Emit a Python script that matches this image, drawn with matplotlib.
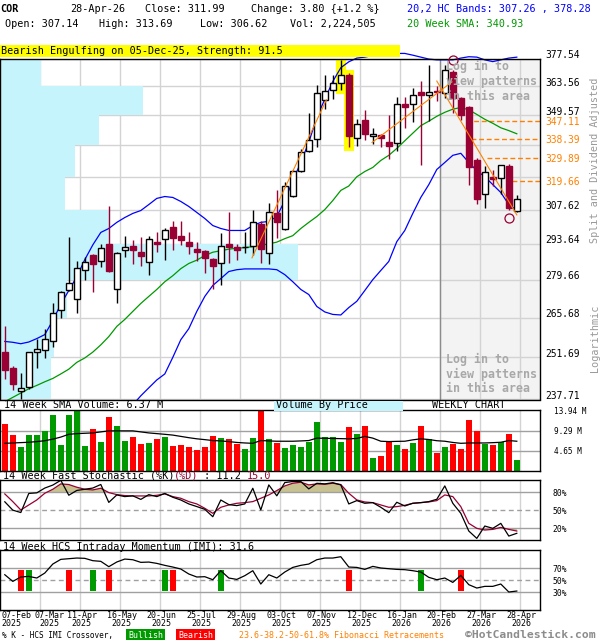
#%% Datos
import numpy as np
import matplotlib
matplotlib.use("Agg")
import matplotlib.pyplot as plt
from matplotlib.patches import Rectangle
from matplotlib.ticker import NullLocator
from matplotlib.transforms import ScaledTranslation, blended_transform_factory

plt.rcParams['font.family'] = 'DejaVu Sans Mono'

# velas semanales (28-Apr-26 es la ultima)
opens = [253.4, 248.0, 240.6, 241.7, 253.4, 254.1, 257.3, 268.3, 275.9, 272.6,
         283.2, 289.3, 287.0, 293.6, 276.0, 291.2, 292.9, 290.3, 286.5, 294.5,
         295.6, 300.6, 296.9, 294.5, 291.7, 290.8, 287.7, 286.2, 293.6, 292.4,
         292.2, 292.6, 301.5, 290.0, 306.0, 299.7, 313.2, 324.0, 333.0, 338.4,
         356.7, 361.8, 365.4, 369.0, 339.2, 347.2, 340.1, 340.4, 337.3, 336.9,
         354.9, 354.9, 360.7, 359.1, 361.3, 360.1, 370.7, 358.1, 353.6, 328.8,
         314.0, 321.3, 321.1, 326.2, 307.14]
highs = [262.6, 248.7, 246.5, 253.6, 258.1, 261.6, 271.1, 275.6, 296.4, 286.8,
         288.5, 289.6, 293.6, 309.3, 290.4, 296.9, 295.2, 296.4, 296.7, 298.3,
         300.2, 302.7, 303.0, 298.5, 294.2, 291.0, 287.9, 297.8, 306.4, 293.6,
         298.3, 307.5, 302.8, 310.2, 315.9, 319.5, 324.5, 334.1, 350.9, 364.1,
         369.0, 369.0, 376.9, 370.0, 347.7, 352.0, 343.5, 340.6, 349.6, 358.4,
         358.4, 362.9, 366.2, 374.4, 363.7, 374.4, 371.9, 358.3, 354.0, 329.9,
         326.2, 324.7, 326.8, 327.4, 313.69]
lows = [244.5, 240.8, 238.0, 241.2, 248.2, 251.5, 255.4, 265.6, 275.4, 267.4,
        279.7, 275.0, 284.6, 282.5, 270.8, 288.3, 285.6, 284.8, 281.3, 290.3,
        287.2, 291.3, 293.3, 289.7, 286.8, 282.3, 276.1, 277.8, 286.2, 287.4,
        289.8, 289.4, 285.9, 285.8, 296.0, 299.1, 312.9, 323.8, 332.8, 335.0,
        352.5, 357.6, 361.8, 334.7, 335.3, 337.9, 336.1, 334.8, 329.5, 333.0,
        343.8, 346.2, 327.0, 346.9, 356.5, 358.1, 350.9, 347.2, 317.9, 310.0,
        308.3, 317.5, 314.3, 307.3, 306.62]
closes = [247.5, 242.7, 241.4, 253.4, 254.5, 258.1, 267.4, 275.1, 278.5, 284.2,
          286.5, 285.6, 292.0, 282.9, 290.0, 292.4, 291.0, 288.7, 295.6, 293.4,
          299.3, 295.9, 295.2, 292.6, 290.3, 288.1, 284.8, 292.8, 292.4, 291.0,
          292.4, 302.6, 291.6, 306.7, 302.4, 317.5, 324.0, 332.6, 337.9, 360.5,
          361.5, 365.4, 369.0, 339.8, 345.7, 340.7, 341.0, 338.9, 335.3, 354.9,
          353.3, 359.1, 359.1, 360.7, 360.7, 371.9, 358.1, 349.7, 325.9, 312.0,
          323.6, 320.6, 326.7, 308.2, 311.99]

# bandas HC 20,2 y media de 20 semanas
upper_band = [257.2, 256.9, 256.4, 257.0, 258.2, 259.6, 264.6, 270.5, 275.6, 280.8,
              287.4, 293.2, 298.2, 299.8, 302.3, 304.3, 306.0, 307.2, 309.7, 312.3,
              313.1, 312.7, 311.0, 308.9, 306.4, 303.9, 301.0, 299.8, 299.0, 299.0,
              299.0, 301.0, 302.3, 302.7, 304.7, 311.4, 319.9, 327.9, 337.0, 348.6,
              357.3, 366.0, 372.9, 375.9, 377.8, 378.3, 379.1, 379.6, 380.1, 380.2,
              380.2, 379.3, 378.3, 377.3, 376.9, 376.9, 376.9, 377.8, 378.5, 378.3,
              376.9, 376.0, 376.9, 377.8, 378.28]
lower_band = [np.nan] * 16 + [
              236.0, 238.9, 241.5, 244.1,
              246.1, 251.7, 257.8, 261.7, 267.9, 273.4, 277.5, 280.1, 282.8, 283.5,
              283.8, 283.8, 283.8, 283.8, 283.5, 281.6, 278.9, 276.0, 274.1, 269.7,
              267.7, 266.8, 266.6, 269.3, 271.6, 275.6, 279.7, 283.2, 286.7, 294.5,
              299.0, 306.0, 312.7, 318.2, 324.8, 327.9, 331.1, 332.0, 327.9, 324.3,
              321.6, 318.2, 314.8, 309.7, 307.26]
sma20 = [237.0, 238.4, 239.8, 241.2, 242.3, 243.5, 244.6, 246.1, 247.7, 250.0,
         251.5, 253.5, 256.0, 258.9, 262.5, 265.0, 267.9, 270.8, 273.4, 276.0,
         278.9, 281.2, 283.9, 285.9, 287.2, 289.0, 290.3, 290.9, 291.5, 291.9,
         292.1, 292.5, 293.1, 293.6, 294.3, 295.7, 296.9, 299.8, 302.3, 304.7,
         307.6, 311.4, 315.7, 317.6, 321.6, 323.9, 325.7, 328.8, 331.1, 334.2,
         337.7, 341.2, 344.7, 346.8, 349.1, 351.0, 352.5, 353.3, 352.2, 350.0,
         347.7, 345.8, 343.7, 342.4, 340.93]

# volumen (millones) y media de 14 semanas
volume = [10.8, 8.4, 5.6, 8.4, 8.4, 9.35, 12.9, 6.0, 12.9, 13.9,
          5.8, 9.7, 6.7, 12.5, 10.3, 7.0, 7.8, 6.25, 6.5, 7.45,
          7.9, 5.8, 6.0, 5.5, 4.8, 5.5, 8.2, 7.7, 7.45, 6.25,
          5.05, 7.7, 13.94, 7.45, 6.5, 5.3, 6.0, 5.5, 6.7, 11.3,
          7.9, 7.9, 6.7, 10.1, 8.65, 10.3, 2.9, 3.4, 6.8, 6.0,
          5.05, 6.5, 10.3, 7.45, 4.1, 5.5, 6.25, 5.05, 11.75, 9.35,
          6.25, 6.0, 6.7, 8.65, 2.65]
vol_sma = [6.40, 6.48, 6.56, 6.64, 6.80, 7.0, 7.36, 7.84, 8.48, 8.64,
           8.72, 8.80, 9.04, 9.28, 9.28, 9.28, 9.28, 9.04, 8.80, 8.64,
           8.48, 8.3, 8.0, 7.7, 7.44, 7.25, 7.04, 6.95, 6.80, 6.6,
           6.48, 6.40, 7.04, 6.95, 6.88, 6.88, 6.88, 6.95, 7.04, 7.60,
           7.56, 7.52, 7.48, 7.44, 7.52, 8.0, 7.60, 6.88, 6.80, 6.85,
           6.88, 7.20, 7.44, 7.28, 7.0, 6.88, 6.6, 6.40, 6.48, 6.48,
           6.48, 6.55, 6.64, 7.04, 6.88]

# estocastico rapido 14 semanas
stoch_k = [64, 50, 46, 78, 79, 87, 92, 100, 75, 83,
           85, 87, 93, 63, 75.5, 72.7, 74, 68, 76, 72.7,
           78, 71.6, 67, 60.4, 56, 51.4, 39, 67, 59.3, 57.6,
           60.4, 86.7, 50.3, 92.3, 74, 96.2, 98, 98, 85.6, 95,
           94, 96, 92.3, 60.4, 66, 61.5, 62.6, 54.8, 45.8, 63.2,
           57, 61.5, 62.6, 64.3, 68.2, 90.6, 61.5, 44.7, 15, 2.7,
           23.4, 19.5, 27.9, 6.6, 11.2]
stoch_d = [77.2, 64.3, 50.3, 58.7, 67.1, 78.3, 85, 94, 92.9, 88.4,
           85, 83.9, 86.7, 79.4, 76, 74.4, 73.8, 73.8, 73.8, 74.9,
           77.2, 72.7, 69.9, 64.3, 60.4, 53.1, 44.7, 54.8, 58.7, 61.5,
           62.6, 64.3, 69.9, 75.5, 82.8, 90.6, 95.1, 96.8, 92.3, 94,
           93.4, 95.1, 92.9, 78.3, 67.1, 63.7, 62.6, 58.7, 54.8, 55.9,
           58.1, 61.5, 62.6, 63.7, 66, 75.5, 72.7, 55.9, 27.9, 19.5,
           16.7, 17.8, 21.1, 17.8, 15.0]

# HCS intraday momentum
imi = [58.8, 47.7, 55, 56, 53.3, 61.6, 76.6, 84.4, 85.5, 86.6,
       86.1, 82.2, 81.1, 72.2, 80, 84.9, 83.8, 79.4, 79.9, 77.7,
       74.4, 71.6, 68.3, 60, 55, 55.5, 50.5, 65.5, 53.3, 51,
       57.2, 65.5, 43.3, 58.8, 53.3, 63.3, 71, 74.4, 76.6, 83.8,
       86.6, 86.6, 88.8, 71.6, 71, 67.7, 72.7, 70, 68.8, 67.7,
       67.2, 65.5, 63.3, 54.4, 50.5, 53.3, 46, 57.7, 42.2, 36.6,
       39.4, 39.4, 43.3, 30, 31.6]
cross_bull = [3, 11, 20, 27, 52]
cross_bear = [2, 8, 13, 21, 43, 57]

# niveles de precio (log) y volumen por precio (% del maximo, de abajo hacia arriba)
price_levels = [237.71, 251.69, 265.68, 279.66, 293.64, 307.62, 321.60, 335.59, 349.57, 363.56, 377.54]
hidden_levels = [321.60, 335.59]
vbp = [17.0, 18.1, 22.4, 100, 37.0, 21.7, 25.2, 33.2, 47.9, 13.7]

fib_levels = [347.11, 338.39, 329.89, 319.66]
fib_start = [57.7, 58.3, 60.25, 63.4]
trend_lines = [(30.9, 288.1, 40.2, 357.0),
               (45.9, 336.9, 55.9, 365.8),
               (54.0, 366.2, 64.0, 305.4)]
swing_marks = [(56, 376.9), (63, 303.9)]
pattern_bars = [42, 43]

date_labels = ["07-Feb\n2025", "07-Mar\n2025", "11-Apr\n2025", "16-May\n2025", "20-Jun\n2025",
               "25-Jul\n2025", "29-Aug\n2025", "03-Oct\n2025", "07-Nov\n2025", "12-Dec\n2025",
               "16-Jan\n2026", "20-Feb\n2026", "27-Mar\n2026", "28-Apr\n2026"]

#%% Figura
RED = "#990033"
VRED = "#ff0000"
VGREEN = "#009900"
ORANGE = "#ff8000"
GRID = "#d3d3d3"
LINE = "#a0a0a0"

W, H = 600, 640
fig = plt.figure(figsize=(6, 6.4), dpi=100)

def axes_px(x0, y0, x1, y1):
    return fig.add_axes([x0 / W, 1 - y1 / H, (x1 - x0) / W, (y1 - y0) / H])

def ftext(x, y, s, **kw):
    kw.setdefault("va", "center")
    kw.setdefault("fontsize", 7.3)
    return fig.text(x / W, 1 - y / H, s, **kw)

x = np.arange(len(closes))
xmin, xmax = -0.6, 66.9
grid_x = [-0.6 + 5 * k for k in range(1, 14)]
up_shift = ScaledTranslation(0, 0.045, fig.dpi_scale_trans)
down_shift = ScaledTranslation(0, -0.012, fig.dpi_scale_trans)

def base_panel(a):
    a.set_xlim(xmin, xmax)
    a.set_xticks(grid_x)
    a.set_xticklabels([])
    a.grid(True, axis="x", color=GRID, lw=1.0)
    a.set_axisbelow(True)
    a.tick_params(length=0)
    a.yaxis.tick_right()
    for s in a.spines.values():
        s.set_color("black")
        s.set_linewidth(1.0)

#%% Panel de precios
ax = axes_px(0, 58.6, 540, 399.5)
ax.set_yscale("log")
base_panel(ax)
ax.set_ylim(price_levels[0], price_levels[-1])
ax.yaxis.set_minor_locator(NullLocator())
ax.set_yticks(price_levels)
ax.set_yticklabels(["" if lv in hidden_levels else f"{lv:.2f}" for lv in price_levels])
ax.tick_params(axis="y", pad=4, labelsize=6.9)
ax.grid(True, axis="y", color=GRID, lw=1.0)
for lbl in ax.get_yticklabels():
    lbl.set_transform(lbl.get_transform() + up_shift)

ax.axvspan(54.4, xmax, color="#f3f3f3", zorder=0.1, lw=0)
ax.axvline(54.4, color="#8c8c8c", lw=1.0, zorder=0.8)

vbp_len = np.array(vbp) / max(vbp) * 0.551 * (xmax - xmin)
ax.barh(price_levels[:-1], vbp_len, height=np.diff(price_levels), left=xmin,
        align="edge", color="#c6f4fc", lw=0, zorder=0.7)

for i in pattern_bars:
    ax.add_patch(Rectangle((i - 0.65, lows[i] / 1.005), 1.3,
                           highs[i] * 1.005 - lows[i] / 1.005, color="#ffff00", lw=0, zorder=1.5))

for lv, xs in zip(fib_levels, fib_start):
    ax.plot([xs, xmax], [lv, lv], color=ORANGE, lw=1.0, ls=(0, (3.5, 2)), zorder=1.8)

ax.plot(x, sma20, color="#009900", lw=0.9, zorder=2.2)
ax.plot(x, lower_band, color="#0000ff", lw=0.9, zorder=2.3)
ax.plot(x, upper_band, color="#0000ff", lw=0.9, zorder=2.3, clip_on=False)

for i in range(len(closes)):
    o, h, l, c = opens[i], highs[i], lows[i], closes[i]
    bull = c >= o
    col = "black" if bull else RED
    ax.vlines(i, l, h, color=col, lw=1.0, zorder=3)
    ax.add_patch(Rectangle((i - 0.36, min(o, c)), 0.72, max(abs(c - o), 0.15),
                           facecolor="white" if bull else RED, edgecolor=col, lw=1.0, zorder=3.5))

for x0, p0, x1, p1 in trend_lines:
    ax.plot([x0, x1], [p0, p1], color=ORANGE, lw=0.8, zorder=5)
for sx, sy in swing_marks:
    ax.plot(sx, sy, "o", mfc="none", mec=RED, ms=6.5, mew=0.9, clip_on=False, zorder=6)

fib_tr = blended_transform_factory(ax.transAxes, ax.transData) + down_shift
for lv in fib_levels:
    ax.text(1 + 5 / 540, lv, f"{lv:.2f}", transform=fib_tr, color=ORANGE, fontsize=6.9,
            va="center", ha="left", clip_on=False)

#%% Volumen
axv = axes_px(0, 410, 540, 471)
base_panel(axv)
axv.set_ylim(0, 14.1)
for lv in (4.65, 9.29):
    axv.axhline(lv, color=LINE, lw=1.0, zorder=1)
vol_cols = [VGREEN if c >= o else VRED for o, c in zip(opens, closes)]
axv.bar(x, volume, width=0.75, color=vol_cols, lw=0, zorder=2)
axv.plot(x, vol_sma, color="black", lw=0.9, zorder=3)
axv.set_yticks([4.65, 9.29, 13.94])
axv.set_yticklabels(["4.65 M", "9.29 M", "13.94 M"])
axv.tick_params(axis="y", pad=10, labelsize=5.6)

#%% Estocastico
axs = axes_px(0, 480.3, 540, 540)
base_panel(axs)
axs.set_ylim(0, 100)
kk = np.array(stoch_k, dtype=float)
dd = np.array(stoch_d, dtype=float)
axs.fill_between(x, 80, dd, where=dd >= 80, interpolate=True, color="#c8c290", lw=0, zorder=1)
axs.fill_between(x, 20, dd, where=dd <= 20, interpolate=True, color="#c8c290", lw=0, zorder=1)
axs.axhline(80, color=LINE, lw=1.0, zorder=1.2)
axs.axhline(20, color=LINE, lw=1.0, zorder=1.2)
axs.axhline(50, color=LINE, lw=1.0, ls=(0, (3.5, 2.5)), zorder=1.2)
axs.plot(x, dd, color=RED, lw=0.9, zorder=2)
axs.plot(x, kk, color="black", lw=0.9, zorder=3)
axs.set_yticks([20, 50, 80])
axs.set_yticklabels(["20%", "50%", "80%"])
axs.tick_params(axis="y", pad=9, labelsize=5.8)

#%% IMI
axi = axes_px(0, 550, 540, 610)
base_panel(axi)
axi.set_ylim(0, 100)
axi.axhline(70, color=LINE, lw=1.0, zorder=1.2)
axi.axhline(30, color=LINE, lw=1.0, zorder=1.2)
axi.axhline(50, color=LINE, lw=1.0, ls=(0, (3.5, 2.5)), zorder=1.2)
axi.bar(cross_bull, 35, bottom=32, width=0.75, color=VGREEN, lw=0, zorder=2)
axi.bar(cross_bear, 35, bottom=32, width=0.75, color=VRED, lw=0, zorder=2)
axi.plot(x, imi, color="black", lw=0.9, zorder=3)
axi.set_yticks([30, 50, 70])
axi.set_yticklabels(["30%", "50%", "70%"])
axi.tick_params(axis="y", pad=9, labelsize=5.8)

# fechas debajo del ultimo panel (las dos primeras corridas para no pisarse)
lab_tr = blended_transform_factory(axi.transData, fig.transFigure)
label_pos = [-0.46, 5.54] + [-0.4 + 5 * k for k in range(2, 14)]
for k, (lp, s) in enumerate(zip(label_pos, date_labels)):
    axi.text(lp, 1 - 611.5 / H, s, transform=lab_tr, fontsize=6, linespacing=0.85,
             ha="left" if k == 0 else "center", va="top", clip_on=False)

#%% Textos
ftext(0, 9.3, "COR", fontweight="bold")
ftext(70, 9.3, "28-Apr-26")
ftext(145, 9.3, "Close: 311.99")
ftext(251, 9.3, "Change: 3.80 {+1.2 %}")
ftext(407, 9.3, "20,2 HC Bands: 307.26 , 378.28", color="#0000ff")
ftext(5, 24, "Open: 307.14")
ftext(99, 24, "High: 313.69")
ftext(200, 24, "Low: 306.62")
ftext(290, 24, "Vol: 2,224,505")
ftext(407, 24, "20 Week SMA: 340.93", color="#009900")

fig.add_artist(Rectangle((0, 1 - 57 / H), 400 / W, 12.5 / H, transform=fig.transFigure,
                         color="#ffff00", lw=0, zorder=0.5))
ftext(1, 51, "Bearish Engulfing on 05-Dec-25, Strength: 91.5")

for yy, s in zip((66.7, 81.7, 96.7), ("Log in to", "view patterns", "in this area")):
    ftext(446.5, yy, s, color="#a8a8a8", fontweight="bold", fontsize=8.4)
for yy, s in zip((359, 374, 389), ("Log in to", "view patterns", "in this area")):
    ftext(446.5, yy, s, color="#a8a8a8", fontweight="bold", fontsize=8.4)

ftext(595, 160, "Split and Dividend Adjusted", color="#999999", rotation=90, ha="center")
ftext(595, 338, "Logarithmic", color="#999999", rotation=90, ha="center")

ftext(4, 405.5, "14 Week SMA Volume: 6.37 M")
fig.add_artist(Rectangle((274 / W, 1 - 410.5 / H), 129 / W, 10 / H, transform=fig.transFigure,
                         color="#c6f4fc", lw=0, zorder=0.5))
ftext(276, 405.5, "Volume By Price")
ftext(432, 405.5, "WEEKLY CHART")

cw = 0.602 * 7.3 * 100 / 72
parts = [("14 Week Fast Stochastic (%K)", "black"), ("(%D)", RED), (" : 11.2 ", "black"), ("15.0", RED)]
px = 3
for s, col in parts:
    ftext(px, 476, s, color=col)
    px += len(s) * cw
ftext(3, 546.5, "14 Week HCS Intraday Momentum (IMI): 31.6")

ftext(2, 635.5, "% K - HCS IMI Crossover,", fontsize=5.6)
ftext(128, 635.5, "Bullish", fontsize=6, color="white",
      bbox=dict(boxstyle="square,pad=0.25", fc=VGREEN, ec="none"))
ftext(178, 635.5, "Bearish", fontsize=6, color="white",
      bbox=dict(boxstyle="square,pad=0.25", fc=VRED, ec="none"))
ftext(239, 635.5, "23.6-38.2-50-61.8% Fibonacci Retracements", fontsize=6, color=ORANGE)
ftext(465, 635.5, "\u00a9HotCandlestick.com", fontsize=8.2, fontweight="bold", color="#8c8c8c")

fig.savefig("out.png", dpi=100)
